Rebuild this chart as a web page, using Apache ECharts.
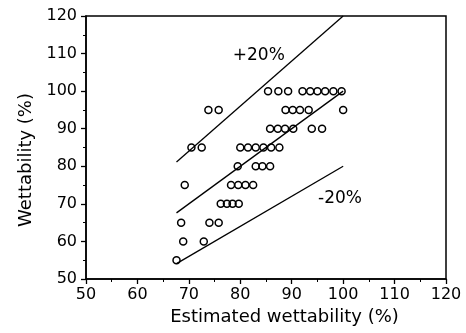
<!DOCTYPE html>
<html>
<head>
<meta charset="utf-8">
<script src="https://cdn.jsdelivr.net/npm/echarts@6/dist/echarts.min.js"></script>
<style>
html, body { margin: 0; padding: 0; background: #fff; }
#main { width: 466px; height: 333px; }
</style>
</head>
<body>
<div id="main"></div>
<script>
// measured wettability rows: [y, x values...]
var row100 = [85.4, 87.4, 89.3, 92.1, 93.6, 95, 96.5, 98.1, 99.7];
var row95 = [73.8, 75.8, 88.8, 90.2, 91.6, 93.3, 100];
var row90 = [85.8, 87.3, 88.7, 90.3, 93.9, 95.9];
var row85 = [70.5, 72.5, 80, 81.5, 83, 84.5, 86, 87.6];
var row80 = [79.5, 83, 84.3, 85.8];
var row75 = [69.2, 78.2, 79.6, 81, 82.5];
var row70 = [76.2, 77.4, 78.5, 79.7];
var row65 = [68.5, 74, 75.8];
var row60 = [68.9, 72.9];
var row55 = [67.6];

var rowLevels = [100, 95, 90, 85, 80, 75, 70, 65, 60, 55];
var rows = [row100, row95, row90, row85, row80, row75, row70, row65, row60, row55];

// reference lines: y = k * x between lineX[0] and lineX[1]
var lineX = [67.6, 100];
var lineK = [1.2, 1.0, 0.8];

var labelText = ['+20%', '-20%'];
var labelPos = [[83.6, 109.4], [99.4, 71.3]];

var points = [];
rows.forEach(function (r, i) {
    r.forEach(function (x) { points.push([x, rowLevels[i]]); });
});

var font = 'DejaVu Sans';

var series = [{
    type: 'scatter',
    data: points,
    symbol: 'circle',
    symbolSize: 7,
    itemStyle: {
        color: 'rgba(0,0,0,0)',
        borderColor: '#000',
        borderWidth: 1.5,
        opacity: 1
    },
    z: 3
}];

lineK.forEach(function (k) {
    series.push({
        type: 'line',
        data: [[lineX[0], lineX[0] * k], [lineX[1], lineX[1] * k]],
        symbol: 'none',
        lineStyle: { color: '#000', width: 1.3 },
        silent: true,
        z: 2
    });
});

series.push({
    type: 'scatter',
    symbolSize: 0,
    itemStyle: { opacity: 1 },
    data: labelPos.map(function (p, i) { return { value: p, name: labelText[i] }; }),
    label: {
        show: true,
        position: 'inside',
        formatter: '{b}',
        color: '#000',
        fontFamily: font,
        fontSize: 17
    },
    silent: true
});

var chart = echarts.init(document.getElementById('main'));
var option = {
    animation: false,
    grid: {
        left: 86, right: 20, top: 16, bottom: 54,
        show: true,
        borderColor: '#000',
        borderWidth: 1.5
    },
    xAxis: {
        type: 'value',
        min: 50, max: 120, interval: 10,
        name: 'Estimated wettability (%)',
        nameLocation: 'middle',
        nameGap: 27,
        nameTextStyle: { color: '#000', fontFamily: font, fontSize: 18, padding: [0, 0, 0, 37] },
        axisLine: { show: true, lineStyle: { color: '#000', width: 1.5 } },
        axisTick: { show: true, inside: false, length: 5, lineStyle: { color: '#000', width: 1.3 } },
        minorTick: { show: true, splitNumber: 2, length: 3, lineStyle: { color: '#000', width: 1 } },
        axisLabel: { color: '#000', fontFamily: font, fontSize: 16, margin: 8 },
        splitLine: { show: false }
    },
    yAxis: {
        type: 'value',
        min: 50, max: 120, interval: 10,
        name: 'Wettability (%)',
        nameLocation: 'middle',
        nameGap: 50,
        nameTextStyle: { color: '#000', fontFamily: font, fontSize: 18, padding: [0, 25, 0, 0] },
        axisLine: { show: true, lineStyle: { color: '#000', width: 1.5 } },
        axisTick: { show: true, inside: false, length: 5, lineStyle: { color: '#000', width: 1.3 } },
        minorTick: { show: true, splitNumber: 2, length: 3, lineStyle: { color: '#000', width: 1 } },
        axisLabel: { color: '#000', fontFamily: font, fontSize: 16, margin: 9 },
        splitLine: { show: false }
    },
    series: series
};
chart.setOption(option);
</script>
</body>
</html>
